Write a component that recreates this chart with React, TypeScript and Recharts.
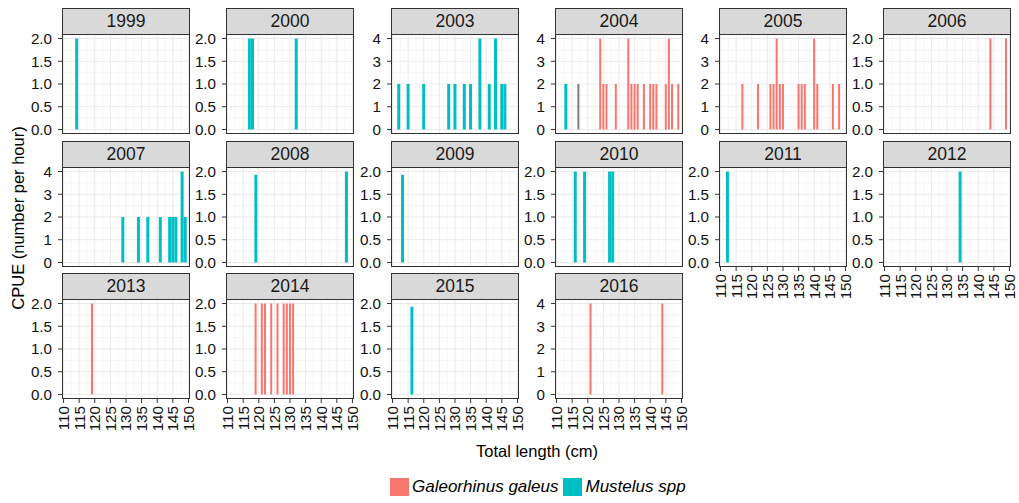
import React from 'react';
import { BarChart, Bar, XAxis, YAxis, CartesianGrid } from 'recharts';

type Pt = [number, number];

// ---- data: [total length (cm), CPUE] per year and species ----
const years = ['1999', '2000', '2003', '2004', '2005', '2006', '2007', '2008', '2009', '2010', '2011', '2012', '2013', '2014', '2015', '2016'];

const mus1999: Pt[] = [[115, 2]];
const mus2000: Pt[] = [[117, 2], [118, 2], [132, 2]];
const mus2003: Pt[] = [[112, 2], [115, 2], [120, 2], [128, 2], [130, 2], [133, 2], [135, 2], [138, 4], [141, 2], [143, 4], [145, 2], [146, 2]];
const mus2004: Pt[] = [[113, 2]];
const na2004: Pt[] = [[117, 2]];
const gal2004: Pt[] = [[124, 4], [125, 2], [126, 2], [129, 2], [133, 4], [134, 2], [135, 2], [136, 2], [138, 2], [140, 2], [141, 2], [142, 2], [145, 2], [146, 4], [147, 2], [149, 2]];
const gal2005: Pt[] = [[117, 2], [122, 2], [126, 2], [127, 2], [128, 4], [129, 2], [130, 2], [135, 2], [136, 2], [137, 2], [140, 4], [141, 2], [146, 2], [148, 2]];
const gal2006: Pt[] = [[144, 2], [149, 2]];
const mus2007: Pt[] = [[129, 2], [134, 2], [137, 2], [141, 2], [144, 2], [145, 2], [146, 2], [148, 4], [149, 2]];
const mus2008: Pt[] = [[119, 1.93], [148, 2]];
const mus2009: Pt[] = [[114, 1.93]];
const mus2010: Pt[] = [[116, 2], [119, 2], [127, 2], [128, 2]];
const mus2011: Pt[] = [[113, 2]];
const mus2012: Pt[] = [[135, 2]];
const gal2013: Pt[] = [[118, 2]];
const gal2014: Pt[] = [[119, 2], [121, 2], [122, 2], [124, 2], [126, 2], [128, 2], [129, 2], [130, 2], [131, 2]];
const mus2015: Pt[] = [[117, 1.93]];
const gal2016: Pt[] = [[121, 4], [144, 4]];

const galeorhinusByYear: Record<string, Pt[]> = { '2004': gal2004, '2005': gal2005, '2006': gal2006, '2013': gal2013, '2014': gal2014, '2016': gal2016 };
const mustelusByYear: Record<string, Pt[]> = { '1999': mus1999, '2000': mus2000, '2003': mus2003, '2004': mus2004, '2007': mus2007, '2008': mus2008, '2009': mus2009, '2010': mus2010, '2011': mus2011, '2012': mus2012, '2015': mus2015 };
const unknownByYear: Record<string, Pt[]> = { '2004': na2004 };

const xTicks = [110, 115, 120, 125, 130, 135, 140, 145, 150];
const xMinor = [112.5, 117.5, 122.5, 127.5, 132.5, 137.5, 142.5, 147.5];
const yTicks2 = [0, 0.5, 1, 1.5, 2];
const yMinor2 = [0.25, 0.75, 1.25, 1.75];
const yTicks4 = [0, 1, 2, 3, 4];
const yMinor4 = [0.5, 1.5, 2.5, 3.5];

const legendLabels = ['Galeorhinus galeus', 'Mustelus spp'];
const legendColors = ['#F8766D', '#00BFC4'];
const GAL = '#F8766D';
const MUS = '#00BFC4';
const NA_COL = '#7F7F7F';

// ---- layout ----
const FONT = '"Liberation Sans", Arial, Helvetica, sans-serif';
const TICK_FS = 15.2;
const COL_LEFT = [62, 226, 391, 555, 719, 883];
const ROW_TOP = [8, 141, 273];
const PW = 128;
const PH = 100;
const STRIP = 26;
const YW = 50;
const XH = 40;
const PADV = 12;
const PADR = 12;

function buildRows(gal: Pt[], mus: Pt[], na: Pt[]) {
  const map = new Map<number, any>();
  const add = (arr: Pt[], key: string) =>
    arr.forEach(([len, v]) => {
      const r = map.get(len) ?? { len };
      r[key] = v;
      map.set(len, r);
    });
  add(mus, 'mus');
  add(na, 'na');
  add(gal, 'gal');
  return Array.from(map.values()).sort((a, b) => a.len - b.len);
}

function XTick(props: any) {
  const { x, y, payload } = props;
  return (
    <g transform={`translate(${x},${y})`}>
      <text transform="rotate(-90)" x={0} y={0} dy="0.36em" textAnchor="end" fill="#111" fontSize={TICK_FS} fontFamily={FONT}>
        {payload.value}
      </text>
    </g>
  );
}

function NarrowBar(props: any) {
  const { x, y, width, height, fill } = props;
  if (!height || !isFinite(height) || !isFinite(x)) return null;
  return <rect x={x + 0.5} y={y} width={Math.max(0, width - 1)} height={height} fill={fill} />;
}

function Panel({ year, index }: { year: string; index: number }) {
  const row = Math.floor(index / 6);
  const col = index % 6;
  const showX = index + 6 >= years.length;
  const left = COL_LEFT[col];
  const top = ROW_TOP[row];
  const gal = galeorhinusByYear[year] ?? [];
  const mus = mustelusByYear[year] ?? [];
  const na = unknownByYear[year] ?? [];
  const rows = buildRows(gal, mus, na);
  const ymax = Math.max(...rows.map((r) => Math.max(r.gal ?? 0, r.mus ?? 0, r.na ?? 0)));
  const big = ymax > 2;
  const top4 = big ? 4 : 2;
  const pad = top4 * 0.05;
  const yT = big ? yTicks4 : yTicks2;
  const yM = big ? yMinor4 : yMinor2;
  return (
    <>
      <div
        style={{
          position: 'absolute', left, top, width: PW, height: STRIP + 1, boxSizing: 'border-box',
          background: '#D9D9D9', border: '1px solid #333', display: 'flex', alignItems: 'center',
          justifyContent: 'center', fontFamily: FONT, fontSize: 17.5, color: '#1A1A1A',
        }}
      >
        {year}
      </div>
      <div style={{ position: 'absolute', left: left - YW, top: top + STRIP - PADV }}>
        <BarChart
          width={YW + PW + PADR}
          height={PH + PADV + (showX ? XH : PADV)}
          data={rows}
          margin={{ top: PADV, right: PADR, bottom: showX ? 0 : PADV, left: 0 }}
          barGap={-3}
          barSize={3}
        >
          <CartesianGrid horizontalValues={yM} verticalValues={xMinor} stroke="#F3F3F3" strokeWidth={0.7} />
          <CartesianGrid horizontalValues={yT} verticalValues={xTicks} stroke="#EBEBEB" strokeWidth={1} />
          <XAxis
            dataKey="len" type="number" domain={[109.5, 150.5]} ticks={xTicks} allowDataOverflow
            hide={!showX} height={XH} axisLine={false} tickLine={{ stroke: '#333' }} tickSize={4} tickMargin={3}
            tick={<XTick />} interval={0}
          />
          <YAxis
            type="number" domain={[-pad, top4 + pad]} ticks={yT} allowDataOverflow width={YW}
            axisLine={false} tickLine={{ stroke: '#333' }} tickSize={4} tickMargin={6} interval={0}
            tick={{ fill: '#111', fontSize: TICK_FS, fontFamily: FONT }}
            tickFormatter={(v: number) => (big ? String(v) : v.toFixed(1))}
          />
          <Bar dataKey="mus" fill={MUS} isAnimationActive={false} />
          <Bar dataKey="na" fill={NA_COL} shape={NarrowBar} isAnimationActive={false} />
          <Bar dataKey="gal" fill={GAL} shape={NarrowBar} isAnimationActive={false} />
        </BarChart>
      </div>
      <div
        style={{
          position: 'absolute', left, top: top + STRIP, width: PW, height: PH,
          boxSizing: 'border-box', border: '1px solid #333', pointerEvents: 'none',
        }}
      />
    </>
  );
}

export default function App() {
  return (
    <div style={{ position: 'absolute', left: 0, top: 0, width: 1019, height: 503, background: '#fff', overflow: 'hidden' }}>
      {years.map((y, i) => (
        <Panel key={y} year={y} index={i} />
      ))}
      <svg width={1019} height={503} style={{ position: 'absolute', left: 0, top: 0, pointerEvents: 'none' }}>
        <text transform="translate(18,218) rotate(-90)" textAnchor="middle" dominantBaseline="central" fontSize={16.5} fontFamily={FONT} fill="#000">
          CPUE (number per hour)
        </text>
        <text x={537} y={451} textAnchor="middle" dominantBaseline="central" fontSize={16.5} fontFamily={FONT} fill="#000">
          Total length (cm)
        </text>
      </svg>
      <div style={{ position: 'absolute', left: 390, top: 478, height: 18, display: 'flex', alignItems: 'center', fontFamily: FONT }}>
        {legendLabels.map((lab, i) => (
          <div key={lab} style={{ display: 'flex', alignItems: 'center', marginRight: 5 }}>
            <span style={{ display: 'inline-block', width: 19, height: 18, background: legendColors[i] }} />
            <span style={{ marginLeft: 3, fontStyle: 'italic', fontSize: 17, color: '#000', whiteSpace: 'nowrap' }}>{lab}</span>
          </div>
        ))}
      </div>
    </div>
  );
}
